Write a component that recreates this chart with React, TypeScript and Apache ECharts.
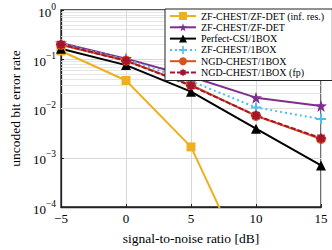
import React, { useEffect, useRef } from 'react';
import * as echarts from 'echarts';

const snr = [-5, 0, 5, 10, 15];
const zfInfRes = [0.147, 0.037, 0.00166, 0.0000025, null];
const zfDet = [0.215, 0.103, 0.044, 0.0166, 0.0113];
const perfectCsi = [0.163, 0.076, 0.022, 0.0039, 0.0007];
const zf1Box = [0.205, 0.1, 0.036, 0.0105, 0.0061];
const ngd1Box = [0.195, 0.094, 0.03, 0.0071, 0.0024];
const ngd1BoxFp = [0.2, 0.093, 0.029, 0.0072, 0.0025];
const seriesNames = [
  'ZF-CHEST/ZF-DET (inf. res.)',
  'ZF-CHEST/ZF-DET',
  'Perfect-CSI/1BOX',
  'ZF-CHEST/1BOX',
  'NGD-CHEST/1BOX',
  'NGD-CHEST/1BOX (fp)',
];
const yDecades = [-4, -3, -2, -1, 0];

const FF = 'Liberation Serif';

const STAR = 'path://M50 0 L61.76 33.82 L97.55 34.55 L69.02 56.18 L79.39 90.45 L50 70 L20.61 90.45 L30.98 56.18 L2.45 34.55 L38.24 33.82 Z';
const PLUS = 'path://M40 0 L60 0 L60 40 L100 40 L100 60 L60 60 L60 100 L40 100 L40 60 L0 60 L0 40 L40 40 Z';
const BURST = 'path://M100 50 L79.56 62.25 L85.36 85.36 L62.25 79.56 L50 100 L37.75 79.56 L14.64 85.36 L20.44 62.25 L0 50 L20.44 37.75 L14.64 14.64 L37.75 20.44 L50 0 L62.25 20.44 L85.36 14.64 L79.56 37.75 Z';

function pairs(vals: (number | null)[]) {
  return snr.map((x, i) => [x, vals[i]]).filter((p) => p[1] !== null);
}

export default function App() {
  const ref = useRef<HTMLDivElement>(null);
  useEffect(() => {
    if (!ref.current) return;
    const chart = echarts.init(ref.current, undefined, { renderer: 'svg' });
    const minorVals: number[] = [];
    for (let k = yDecades[0]; k < yDecades[yDecades.length - 1]; k++) {
      for (let m = 2; m <= 9; m++) minorVals.push(m * Math.pow(10, k));
    }
    const mk = (
      name: string,
      vals: (number | null)[],
      color: string,
      symbol: string,
      size: number,
      lineType: any = 'solid'
    ) => ({
      name,
      type: 'line',
      data: pairs(vals),
      symbol,
      symbolSize: size,
      clip: true,
      lineStyle: { color, width: 2, type: lineType },
      itemStyle: { color },
      z: 3,
    });
    const option: any = {
      animation: false,
      textStyle: { fontFamily: FF },
      grid: {
        left: 53,
        right: 11,
        top: 10,
        bottom: 40,
        show: true,
        borderColor: '#222',
        borderWidth: 1.3,
        backgroundColor: 'transparent',
      },
      legend: {
        orient: 'vertical',
        left: 165,
        top: 9,
        z: 20,
        itemWidth: 26,
        itemHeight: 10,
        itemGap: 1.3,
        padding: [2, 8, 3, 4],
        backgroundColor: '#fff',
        borderColor: '#222',
        borderWidth: 1,
        textStyle: { fontFamily: FF, fontSize: 10, lineHeight: 10, color: '#000' },
        data: seriesNames,
      },
      xAxis: {
        type: 'value',
        min: -5,
        max: 15,
        interval: 5,
        name: 'signal-to-noise ratio [dB]',
        nameLocation: 'middle',
        nameGap: 24,
        nameTextStyle: { fontFamily: FF, fontSize: 13.5, color: '#000' },
        axisLine: { show: true, onZero: false, lineStyle: { color: '#222', width: 1.3 } },
        axisTick: { show: true, inside: true, length: 3, lineStyle: { color: '#222' } },
        axisLabel: {
          fontFamily: FF,
          fontSize: 13,
          color: '#000',
          margin: 5,
          formatter: (v: number) => (v < 0 ? '\u2212' + -v : String(v)),
        },
        splitLine: { show: true, lineStyle: { color: '#d8d8d8', width: 1 } },
      },
      yAxis: {
        type: 'log',
        logBase: 10,
        min: 1e-4,
        max: 1,
        name: 'uncoded bit error rate',
        nameLocation: 'middle',
        nameGap: 38,
        nameTextStyle: { fontFamily: FF, fontSize: 13.5, color: '#000' },
        axisLine: { show: true, onZero: false, lineStyle: { color: '#222', width: 1.3 } },
        axisTick: { show: true, inside: true, length: 3, lineStyle: { color: '#222' } },
        axisLabel: {
          margin: 5,
          fontFamily: FF,
          fontSize: 13,
          color: '#000',
          formatter: (v: number) => {
            const e = Math.round(Math.log10(v));
            return '{b|10}{s|' + (e < 0 ? '\u2212' + -e : String(e)) + '}';
          },
          rich: {
            b: { fontFamily: FF, fontSize: 13, color: '#000', lineHeight: 17, verticalAlign: 'bottom' },
            s: { fontFamily: FF, fontSize: 9.5, color: '#000', lineHeight: 17, verticalAlign: 'top' },
          },
        },
        splitLine: { show: true, lineStyle: { color: '#d8d8d8', width: 1 } },
      },
      series: [
        {
          name: '__minor',
          type: 'line',
          data: [],
          silent: true,
          z: 1,
          markLine: {
            silent: true,
            z: 1,
            symbol: ['none', 'none'],
            label: { show: false },
            lineStyle: { color: '#e0e0e0', width: 0.8, type: 'solid' },
            data: minorVals.map((v) => ({ yAxis: v })),
          },
        },
        mk(seriesNames[0], zfInfRes, '#EDB120', 'rect', 9),
        mk(seriesNames[1], zfDet, '#7E2F8E', STAR, 12),
        mk(seriesNames[2], perfectCsi, '#000000', 'triangle', 10),
        mk(seriesNames[3], zf1Box, '#4DBEEE', PLUS, 10, [2, 3]),
        mk(seriesNames[4], ngd1Box, '#D95319', 'circle', 10),
        mk(seriesNames[5], ngd1BoxFp, '#A2142F', BURST, 11, [5, 2]),
      ],
    };
    chart.setOption(option);
    return () => chart.dispose();
  }, []);
  return <div ref={ref} style={{ width: 332, height: 250, position: 'absolute', left: 0, top: 0 }} />;
}
